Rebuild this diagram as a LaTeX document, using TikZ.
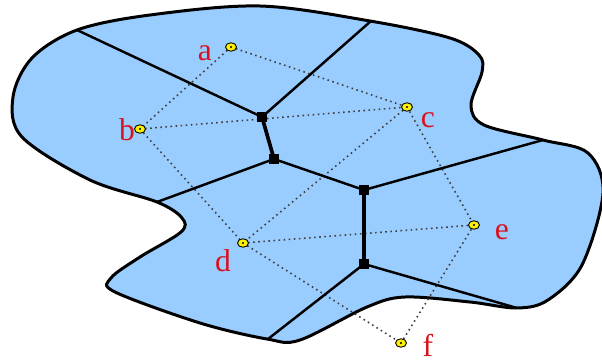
\documentclass[tikz,border=0pt]{standalone}
\usepackage{fontspec}
\setmainfont{Liberation Serif}
\definecolor{region}{RGB}{153,204,255}
\definecolor{lbl}{RGB}{215,20,30}
\tikzset{
  site/.style={ellipse, draw=black, line width=0.5pt, fill=yellow, minimum width=0.22cm, minimum height=0.17cm, inner sep=0pt},
  vert/.style={rectangle, fill=black, minimum width=0.21cm, minimum height=0.19cm, inner sep=0pt},
  vedge/.style={line width=1.4pt, black},
  vthick/.style={line width=2.1pt, black},
  dedge/.style={dotted, line width=0.9pt, black!75},
  lab/.style={text=lbl, font=\fontsize{18}{18}\selectfont, inner sep=0pt},
  border/.style={line width=1.7pt, black, fill=region}
}
\usetikzlibrary{shapes.geometric}
\begin{document}
\begin{tikzpicture}[x=0.02cm,y=-0.02cm]
\useasboundingbox (0,0) rectangle (602,362);
\draw[border] plot[smooth cycle, tension=0.55] coordinates {
 (77,30) (150,15) (260,6) (370,21) (450,38) (479,55) (482,72) (471,105) (484,125)
 (543,140) (588,153) (603,193) (582,265) (548,300) (517,308) (470,302) (405,297)
 (367,307) (300,340) (267,339) (200,323) (115,292) (111,278) (140,257) (181,232) (182,218)
 (157,202) (90,180) (22,137) (13,97) (32,58)};
% boundary endpoints
\coordinate (p1) at (77,30);
\coordinate (p2) at (371,21);
\coordinate (p3) at (157,202);
\coordinate (p4) at (543,140);
\coordinate (p5) at (268,339);
\coordinate (p6) at (517,308);
% Voronoi vertices
\node[vert] (v1) at (262,117) {};
\node[vert] (v2) at (274,159) {};
\node[vert] (v3) at (364,190) {};
\node[vert] (v4) at (364,264) {};
% sites
\coordinate (sa) at (231,47);
\coordinate (sb) at (140,129);
\coordinate (sc) at (407,107);
\coordinate (sd) at (243,243);
\coordinate (se) at (474,225);
\coordinate (sf) at (401,343);
% Delaunay edges
\draw[dedge] (sa) -- (sb);
\draw[dedge] (sa) -- (sc);
\draw[dedge] (sb) -- (sc);
\draw[dedge] (sb) -- (sd);
\draw[dedge] (sc) -- (sd);
\draw[dedge] (sc) -- (se);
\draw[dedge] (sd) -- (se);
\draw[dedge] (sd) -- (sf);
\draw[dedge] (se) -- (sf);
% Voronoi edges
\draw[vedge] (p1) -- (v1.center);
\draw[vedge] (p2) -- (v1.center);
\draw[vthick] (v1.center) -- (v2.center);
\draw[vedge] (p3) -- (v2.center);
\draw[vedge] (v2.center) -- (v3.center);
\draw[vedge] (p4) -- (v3.center);
\draw[vthick] (v3.center) -- (v4.center);
\draw[vedge] (p5) -- (v4.center);
\draw[vedge] (p6) -- (v4.center);
\foreach \v in {v1,v2,v3,v4} \node[vert] at (\v) {};
% site markers
\foreach \s/\n in {sa/a,sb/b,sc/c,sd/d,se/e,sf/f} {
  \node[site] (m\n) at (\s) {};
  \fill[black] (\s) circle (0.6pt);
}
% labels
\node[lab] (la) at (205,53) {a};
\node[lab] (lb) at (127,130) {b};
\node[lab] (lc) at (428,120) {c};
\node[lab] (ld) at (223,261) {d};
\node[lab] (le) at (502,232) {e};
\node[lab] (lf) at (428,345) {f};
\end{tikzpicture}
\end{document}
